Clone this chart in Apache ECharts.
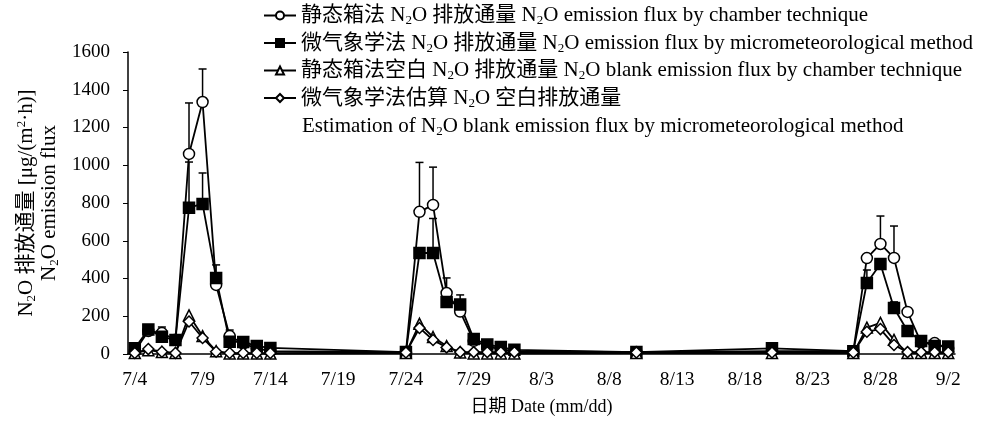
<!DOCTYPE html>
<html>
<head>
<meta charset="utf-8">
<script src="https://cdn.jsdelivr.net/npm/echarts@6/dist/echarts.min.js"></script>
<style>
  html, body { margin: 0; padding: 0; background: #fff; }
  #main { width: 986px; height: 421px; }
</style>
</head>
<body>
<div id="main"></div>
<script>
// 采样日期
const sampleDates = [
  '7/4', '7/5', '7/6', '7/7', '7/8', '7/9', '7/10', '7/11', '7/12', '7/13', '7/14',
  '7/24', '7/25', '7/26', '7/27', '7/28', '7/29', '7/30', '7/31', '8/1',
  '8/10', '8/20',
  '8/26', '8/27', '8/28', '8/29', '8/30', '8/31', '9/1', '9/2'
]
// 静态箱法
const chamber = [
  15, 122, 111, 75, 1060, 1335, 366, 95, 55, 30, 15,
  10, 753, 790, 323, 225, 70, 40, 25, 15,
  10, 15,
  15, 508, 583, 509, 223, 60, 58, 30
]
const chamberUpper = [
  null, null, 143, null, 1330, 1510, null, 127, null, null, null,
  null, 1015, 990, 403, null, null, null, null, null,
  null, null,
  null, null, 731, 678, null, null, null, null
]
// 微气象学法
const micro = [
  30, 130, 92, 74, 775, 795, 403, 65, 64, 42, 32,
  10, 535, 535, 276, 262, 80, 50, 37, 22,
  10, 30,
  15, 376, 477, 244, 122, 69, 42, 40
]
const microUpper = [
  null, null, null, null, 1017, 959, 472, null, null, null, null,
  null, null, 718, null, 313, null, null, null, null,
  null, null,
  null, 445, null, 276, null, null, null, null
]
// 空白通量
const chamberBlank = [
  5, 20, 10, 5, 205, 95, 15, 2, 2, 2, 2,
  5, 160, 90, 42, 8, 3, 3, 3, 3,
  5, 5,
  5, 140, 165, 75, 5, 5, 5, 5
]
const microBlank = [
  5, 26, 12, 5, 172, 85, 12, 5, 5, 5, 5,
  8, 138, 74, 35, 10, 10, 10, 10, 10,
  8, 8,
  8, 118, 132, 48, 10, 10, 10, 10
]
const yTicks = { min: 0, max: 1600, interval: 200 }

// 7/4 ~ 9/2 每天一个类目
const allDays = []
{
  const d = new Date(2000, 6, 4)
  const end = new Date(2000, 8, 2)
  while (d <= end) {
    allDays.push((d.getMonth() + 1) + '/' + d.getDate())
    d.setDate(d.getDate() + 1)
  }
}

const FONT = '"Liberation Serif", "Noto Sans CJK SC", serif'
const richText = (size, lh) => ({
  t: { fontFamily: FONT, fontSize: size, color: '#000', lineHeight: lh },
  s: { fontFamily: FONT, fontSize: Math.round(size * 0.62), color: '#000', lineHeight: Math.round(size * 0.62), verticalAlign: 'bottom' },
  p: { fontFamily: FONT, fontSize: Math.round(size * 0.62), color: '#000', lineHeight: Math.round(size * 0.62), verticalAlign: 'top' }
})
const legendText = {
  a: '{t|静态箱法 N}{s|2}{t|O 排放通量 N}{s|2}{t|O emission flux by chamber technique}',
  b: '{t|微气象学法 N}{s|2}{t|O 排放通量 N}{s|2}{t|O emission flux by micrometeorological method}',
  c: '{t|静态箱法空白 N}{s|2}{t|O 排放通量 N}{s|2}{t|O blank emission flux by chamber technique}',
  d: '{t|微气象学法估算 N}{s|2}{t|O 空白排放通量}'
}

const pairs = (arr) => arr.map((v, i) => [sampleDates[i], v])
const errPairs = (arr, upper) =>
  upper.map((u, i) => (u == null ? null : [sampleDates[i], arr[i], u])).filter(Boolean)

const errorBar = (data) => ({
  type: 'custom',
  data: data,
  z: 1,
  silent: true,
  renderItem(params, api) {
    const p0 = api.coord([api.value(0), api.value(1)])
    const p1 = api.coord([api.value(0), api.value(2)])
    const w = 4
    return {
      type: 'group',
      children: [
        { type: 'line', shape: { x1: p0[0], y1: p0[1], x2: p1[0], y2: p1[1] }, style: { stroke: '#000', lineWidth: 1.5 } },
        { type: 'line', shape: { x1: p1[0] - w, y1: p1[1], x2: p1[0] + w, y2: p1[1] }, style: { stroke: '#000', lineWidth: 1.5 } }
      ]
    }
  }
})

const lineSeries = (name, data, symbol, size, fill) => ({
  name: name,
  type: 'line',
  data: pairs(data),
  symbol: symbol,
  symbolSize: size,
  showAllSymbol: true,
  z: 3,
  lineStyle: { color: '#000', width: 1.8 },
  itemStyle: { color: fill, borderColor: '#000', borderWidth: 1.5 }
})

const chart = echarts.init(document.getElementById('main'))
const option = {
  animation: false,
  backgroundColor: '#fff',
  grid: { left: 128, right: 31, top: 52, bottom: 67 },
  legend: {
    orient: 'vertical',
    left: 258,
    top: 0,
    itemGap: 5,
    itemWidth: 32,
    itemHeight: 10,
    data: ['a', 'b', 'c', 'd'],
    formatter: (n) => legendText[n],
    textStyle: { rich: richText(21, 24) }
  },
  graphic: [
    {
      type: 'text',
      left: 302,
      top: 116,
      style: {
        text: '{t|Estimation of N}{s|2}{t|O blank emission flux by micrometeorological method}',
        rich: richText(21, 24)
      }
    }
  ],
  xAxis: {
    type: 'category',
    data: allDays,
    boundaryGap: true,
    name: '日期 Date (mm/dd)',
    nameLocation: 'middle',
    nameGap: 44,
    nameTextStyle: { fontFamily: FONT, fontSize: 18, color: '#000' },
    axisLine: { lineStyle: { color: '#000', width: 1.5 } },
    axisTick: { inside: true, length: 4, interval: 4, lineStyle: { color: '#000' } },
    axisLabel: { interval: 4, margin: 16, fontFamily: FONT, fontSize: 19.5, color: '#000' },
    splitLine: { show: false }
  },
  yAxis: {
    type: 'value',
    min: yTicks.min,
    max: yTicks.max,
    interval: yTicks.interval,
    name: '{t|N}{s|2}{t|O 排放通量 [μg/(m}{p|2}{t|·h)]}\n{t|N}{s|2}{t|O emission flux}',
    nameLocation: 'middle',
    nameRotate: 90,
    nameGap: 61,
    nameTextStyle: { rich: richText(21, 23) },
    axisLine: { show: true, lineStyle: { color: '#000', width: 1.5 } },
    axisTick: { show: true, length: 5, lineStyle: { color: '#000' } },
    axisLabel: { margin: 18, fontFamily: FONT, fontSize: 19, color: '#000', formatter: (v) => String(v) },
    splitLine: { show: false }
  },
  series: [
    errorBar(errPairs(chamber, chamberUpper)),
    errorBar(errPairs(micro, microUpper)),
    lineSeries('a', chamber, 'circle', 11, '#fff'),
    lineSeries('b', micro, 'rect', 11, '#000'),
    lineSeries('c', chamberBlank, 'triangle', 11, '#fff'),
    lineSeries('d', microBlank, 'diamond', 11, '#fff')
  ]
}
chart.setOption(option)
</script>
</body>
</html>
